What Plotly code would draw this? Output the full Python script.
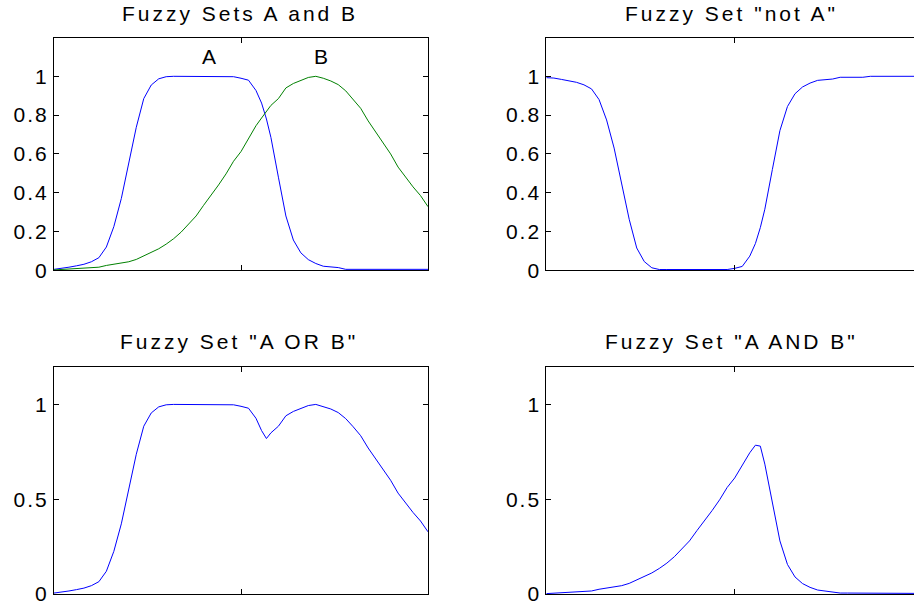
import plotly.graph_objects as go

# ---- data ----
x_vals = [0, 2, 4, 6, 8, 10, 12, 14, 16, 18, 20, 22, 24, 26, 28, 30, 32, 34, 36, 38,
          40, 42, 44, 46, 48, 50, 52, 54, 55.5, 56.8, 58, 60, 62, 64, 66, 68, 70, 72,
          74, 76, 78, 80, 82, 84, 86, 88, 90, 92, 94, 96, 98, 100]

set_a = [0.005, 0.009, 0.016, 0.023, 0.031, 0.044, 0.065, 0.12, 0.225, 0.37, 0.55, 0.737,
         0.885, 0.955, 0.987, 0.998, 1.0, 1.0, 1.0, 1.0, 1.0, 1.0, 1.0, 1.0, 0.998, 0.99,
         0.98, 0.927, 0.862, 0.78, 0.685, 0.48, 0.28, 0.156, 0.09, 0.055, 0.035, 0.021,
         0.016, 0.014, 0.005, 0.005, 0.005, 0.005, 0.005, 0.005, 0.005, 0.005, 0.005,
         0.005, 0.005, 0.005]

set_b = [0.002, 0.004, 0.006, 0.008, 0.01, 0.013, 0.016, 0.025, 0.031, 0.037, 0.044, 0.056,
         0.075, 0.09, 0.111, 0.135, 0.163, 0.197, 0.237, 0.28, 0.335, 0.385, 0.44, 0.497,
         0.562, 0.612, 0.678, 0.745, 0.785, 0.82, 0.85, 0.885, 0.94, 0.963, 0.98, 0.994,
         1.0, 0.99, 0.976, 0.957, 0.925, 0.882, 0.835, 0.77, 0.715, 0.657, 0.6, 0.532,
         0.48, 0.43, 0.385, 0.328]

set_not_a = [0.993, 0.991, 0.984, 0.977, 0.969, 0.956, 0.935, 0.88, 0.775, 0.63, 0.45, 0.263,
             0.115, 0.045, 0.013, 0.004, 0.004, 0.004, 0.004, 0.004, 0.004, 0.004, 0.004,
             0.004, 0.004, 0.01, 0.02, 0.073, 0.138, 0.22, 0.315, 0.52, 0.72, 0.844, 0.91,
             0.945, 0.965, 0.979, 0.984, 0.986, 0.995, 0.995, 0.995, 0.995, 1.0, 1.0, 1.0,
             1.0, 1.0, 1.0, 1.0, 1.0]

set_a_or_b = [0.005, 0.009, 0.016, 0.023, 0.031, 0.044, 0.065, 0.12, 0.225, 0.37, 0.55, 0.737,
              0.885, 0.955, 0.987, 0.998, 1.0, 1.0, 1.0, 1.0, 1.0, 1.0, 1.0, 1.0, 0.998,
              0.99, 0.98, 0.927, 0.862, 0.82, 0.85, 0.885, 0.94, 0.963, 0.98, 0.994, 1.0,
              0.99, 0.976, 0.957, 0.925, 0.882, 0.835, 0.77, 0.715, 0.657, 0.6, 0.532, 0.48,
              0.43, 0.385, 0.328]

set_a_and_b = [0.002, 0.004, 0.006, 0.008, 0.01, 0.013, 0.016, 0.025, 0.031, 0.037, 0.044,
               0.056, 0.075, 0.09, 0.111, 0.135, 0.163, 0.197, 0.237, 0.28, 0.335, 0.385,
               0.44, 0.497, 0.562, 0.612, 0.678, 0.745, 0.785, 0.78, 0.685, 0.48, 0.28,
               0.156, 0.09, 0.055, 0.035, 0.021, 0.016, 0.014, 0.005, 0.005, 0.005, 0.005,
               0.003, 0.003, 0.003, 0.003, 0.003, 0.003, 0.003, 0.003]

titles = ["Fuzzy Sets A and B", 'Fuzzy Set "not A"', 'Fuzzy Set "A OR B"', 'Fuzzy Set "A AND B"']
x_tickvals = [0, 50, 100]
top_tickvals = [0, 0.2, 0.4, 0.6, 0.8, 1]
top_ticklabels = ["0", "0.2", "0.4", "0.6", "0.8", "1"]
bot_tickvals = [0, 0.5, 1]
bot_ticklabels = ["0", "0.5", "1"]
curve_labels = ["A", "B"]
curve_label_x = [41.9, 71.8]
curve_label_y = [1.10, 1.10]

# ---- styling ----
W, H = 914, 605
FONT = "Liberation Sans, Arial, sans-serif"
FS = 21
SP = 3  # letter spacing px


def spaced(t, sp=SP):
    return f"<span style='letter-spacing:{sp}px'>{t}</span>"


BLUE = "#0000ff"
GREEN = "#008000"

fig = go.Figure()
fig.add_trace(go.Scatter(x=x_vals, y=set_a, mode="lines", line=dict(color=BLUE, width=1),
                         xaxis="x", yaxis="y", showlegend=False))
fig.add_trace(go.Scatter(x=x_vals, y=set_b, mode="lines", line=dict(color=GREEN, width=1),
                         xaxis="x", yaxis="y", showlegend=False))
fig.add_trace(go.Scatter(x=x_vals, y=set_not_a, mode="lines", line=dict(color=BLUE, width=1),
                         xaxis="x2", yaxis="y2", showlegend=False))
fig.add_trace(go.Scatter(x=x_vals, y=set_a_or_b, mode="lines", line=dict(color=BLUE, width=1),
                         xaxis="x3", yaxis="y3", showlegend=False))
fig.add_trace(go.Scatter(x=x_vals, y=set_a_and_b, mode="lines", line=dict(color=BLUE, width=1),
                         xaxis="x4", yaxis="y4", showlegend=False))

left_dom = [54 / W, 428 / W]
right_dom = [546.3 / W, 1.0]
top_dom = [(H - 270.3) / H, (H - 37.5) / H]
bot_dom = [(H - 594) / H, (H - 366.5) / H]
right_range_end = (W - 546.3) / 3.768


def xax(domain, anchor, rng):
    return dict(domain=domain, anchor=anchor, range=rng, showline=True, linecolor="black",
                linewidth=1, mirror="ticks", ticks="inside", ticklen=5, tickcolor="black",
                tickwidth=1, tickvals=x_tickvals, ticktext=["", "", ""], showgrid=False,
                zeroline=False, fixedrange=True, automargin=False)


def yax(domain, anchor, vals, labels, mirror):
    return dict(domain=domain, anchor=anchor, range=[0, 1.2], showline=True, linecolor="black",
                linewidth=1, mirror=mirror, ticks="inside", ticklen=5, tickcolor="black",
                tickwidth=1, tickvals=vals, ticktext=[spaced(t, 2) for t in labels],
                tickfont=dict(family=FONT, size=FS, color="black"), showgrid=False,
                zeroline=False, fixedrange=True, automargin=False, ticklabeloverflow="allow")


fig.update_layout(
    width=W, height=H,
    margin=dict(l=0, r=0, t=0, b=0, pad=0, autoexpand=False),
    paper_bgcolor="white", plot_bgcolor="white",
    xaxis=xax(left_dom, "y", [0, 100]),
    yaxis=yax(top_dom, "x", top_tickvals, top_ticklabels, "ticks"),
    xaxis2=xax(right_dom, "y2", [0, right_range_end]),
    yaxis2=yax(top_dom, "x2", top_tickvals, top_ticklabels, False),
    xaxis3=xax(left_dom, "y3", [0, 100]),
    yaxis3=yax(bot_dom, "x3", bot_tickvals, bot_ticklabels, "ticks"),
    xaxis4=xax(right_dom, "y4", [0, right_range_end]),
    yaxis4=yax(bot_dom, "x4", bot_tickvals, bot_ticklabels, False),
)

title_pos = [(240, 13.5), (731, 13.5), (239, 341), (731, 341)]
for t, (px, py) in zip(titles, title_pos):
    fig.add_annotation(text=spaced(t), x=px / W, y=(H - py) / H, xref="paper", yref="paper",
                       xanchor="center", yanchor="middle", showarrow=False,
                       font=dict(family=FONT, size=FS, color="black"))

for lab, lx, ly in zip(curve_labels, curve_label_x, curve_label_y):
    fig.add_annotation(text=spaced(lab), x=lx, y=ly, xref="x", yref="y", xanchor="center",
                       yanchor="middle", showarrow=False,
                       font=dict(family=FONT, size=FS, color="black"))

fig.write_html(
    "out.html",
    config={"displayModeBar": False},
    post_script="document.body.style.margin='0';document.body.style.overflow='hidden';",
)
